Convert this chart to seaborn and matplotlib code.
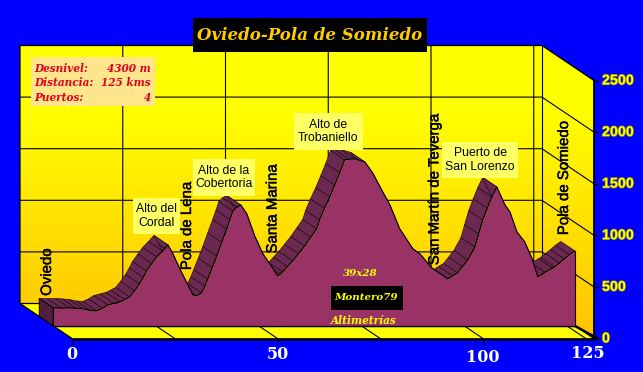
import numpy as np
import pandas as pd
import matplotlib
matplotlib.use("Agg")
import matplotlib.pyplot as plt
import matplotlib.patheffects as pe
from matplotlib.colors import LinearSegmentedColormap
from matplotlib.patches import Polygon, Rectangle
import seaborn as sns

title = "Oviedo-Pola de Somiedo"
km = [0, 2, 4, 5.6, 7.2, 9, 10.6, 12, 13.3, 14.8, 16.2, 17.4, 18.6, 19.8, 21, 21.9, 22.7, 24, 25.2, 26.6, 27.9,
      29.1, 30.8, 32.5, 34, 34.9, 36.1, 36.9, 37.6, 38.7, 39.8, 41, 42.2, 43, 43.7, 44.6, 45.6,
      47.1, 49, 51, 52.7, 54.6, 55.2, 55.8, 57, 58.3, 59.7, 61.2, 62.7, 64.1, 64.8, 66, 67.3, 68.5, 69.7, 70.9,
      72, 73.4, 75.8, 77.7, 79.9, 81.9, 84.3, 87.5, 89.2, 92.1, 96, 97.2, 98.4, 99.6, 100.9, 102.6, 103.5, 104.5,
      105.6, 106.7, 107.9, 109.9, 111.1, 112.8, 114.7, 116.4, 117.9, 119.7, 121.5, 122, 123.2, 124.4, 125.6, 126.9]
elev = [174, 172, 174, 170, 165, 150, 145, 170, 203, 218, 233, 255, 281, 340, 407, 470, 533, 605, 669, 727, 785,
        698, 552, 417, 300, 291, 320, 385, 455, 565, 678, 810, 940, 1030, 1114, 1150, 1172,
        1085, 872, 698, 600, 484, 500, 523, 575, 630, 700, 775, 860, 940, 1027, 1140, 1250, 1365, 1483, 1609,
        1615, 1618, 1589, 1483, 1318, 1172, 940, 746, 698, 562, 455, 485, 514, 575, 640, 765, 890, 1027,
        1140, 1250, 1347, 1172, 1105, 911, 814, 659, 475, 520, 560, 572, 610, 649, 690, 727]
y_ticks = [0, 500, 1000, 1500, 2000, 2500]
x_ticks = [0, 50, 100, 125]
x_grid = [25, 50, 75, 100, 125]
info_rows = [("Desnivel:", "4300 m"), ("Distancia:", "125 kms"), ("Puertos:", "4")]
passes = ["Alto del\nCordal", "Alto de la\nCobertoria", "Alto de\nTrobaniello", "Puerto de\nSan Lorenzo"]
towns = ["Oviedo", "Pola de Lena", "Santa Marina", "San Martín de Teverga", "Pola de Somiedo"]

W, H = 643, 372
PX_KM, PX_M = 4.11, 0.1032
X0, Y0 = 72, 338.5
DK, DM = -52 / PX_KM, 35 / PX_M       # depth vector, front edge to back wall
XEND = 127
FRONT, BACK = 0.36, 0.63

sns.set_theme(style="white")
plt.rcParams["font.family"] = ["Liberation Sans", "DejaVu Sans"]
fig = plt.figure(figsize=(W / 100, H / 100), dpi=100, facecolor="#0000FF")
ax = fig.add_axes([0, 0, 1, 1])
ax.set_xlim(-X0 / PX_KM, (W - X0) / PX_KM)
ax.set_ylim((Y0 - H) / PX_M, Y0 / PX_M)
ax.axis("off")


def proj(x, y, d):
    return np.asarray(x, float) + d * DK, np.asarray(y, float) + d * DM


def P(x, y, d):
    a, b = proj(x, y, d)
    return (float(a), float(b))


def fx(px):
    return px / W


def fy(py):
    return 1 - py / H


def box(x0, y0, x1, y1, color, z):
    fig.add_artist(Rectangle((fx(x0), fy(y1)), (x1 - x0) / W, (y1 - y0) / H, transform=fig.transFigure,
                             facecolor=color, edgecolor="none", zorder=z))


# walls with vertical gradient
back_wall = [P(0, 0, 1), P(XEND, 0, 1), P(XEND, 2500, 1), P(0, 2500, 1)]
side_wall = [P(XEND, 0, 1), P(XEND, 0, 0), P(XEND, 2500, 0), P(XEND, 2500, 1)]
floor = [P(0, 0, 1), P(XEND, 0, 1), P(XEND, 0, 0), P(0, 0, 0)]
cmap = LinearSegmentedColormap.from_list(
    "wall", [(0, "#FFFF00"), (0.22, "#FFFF00"), (0.87, "#FFCC00"), (1, "#FFC400")], N=64)
grad = np.linspace(0, 1, 128)[:, None]
for poly in (back_wall, side_wall):
    im = ax.imshow(grad, cmap=cmap, aspect="auto", zorder=1,
                   extent=[0 + DK, XEND, -35 + 0, 2500 + DM])
    patch = Polygon(poly, transform=ax.transData, facecolor="none", edgecolor="none")
    ax.add_patch(patch)
    im.set_clip_path(patch)
ax.set_xlim(-X0 / PX_KM, (W - X0) / PX_KM)
ax.set_ylim((Y0 - H) / PX_M, Y0 / PX_M)
ax.add_patch(Polygon(floor, facecolor="#FFFF00", edgecolor="none", zorder=1))

# grid
LW = 0.8
for m in y_ticks[1:-1]:
    a, b = zip(P(0, m, 1), P(XEND, m, 1), P(XEND, m, 0))
    ax.plot(a, b, color="black", lw=LW, zorder=2)
for k in x_grid:
    a, b = zip(P(k, 2500, 1), P(k, 0, 1), P(k, 0, 0))
    ax.plot(a, b, color="black", lw=LW, zorder=2)
a, b = zip(P(0, 0, 0), P(0, 0, 1), P(0, 2500, 1), P(XEND, 2500, 1), P(XEND, 2500, 0), P(XEND, 0, 0))
ax.plot(a, b, color="black", lw=0.9, zorder=2)
a, b = zip(P(0, 0, 1), P(XEND, 0, 1), P(XEND, 0, 0))
ax.plot(a, b, color="black", lw=0.9, zorder=2)
a, b = zip(P(XEND, 2500, 1), P(XEND, 0, 1))
ax.plot(a, b, color="black", lw=LW, zorder=2)
# axes frame and ticks
a, b = zip(P(0, 0, 0), P(XEND, 0, 0))
ax.plot(a, b, color="black", lw=1.8, zorder=6, solid_capstyle="butt")
a, b = zip(P(XEND, 0, 0), P(XEND, 2500, 0))
ax.plot(a, b, color="black", lw=1.1, zorder=6)
for k in x_ticks[:-1]:
    ax.plot([k, k], [0, -5 / PX_M], color="black", lw=0.8, zorder=6)
for m in y_ticks:
    ax.plot([XEND, XEND + 4 / PX_KM], [m, m], color="black", lw=0.9, zorder=6)

# base strip of the solid profile
a, b = zip(P(0, 0, FRONT), P(XEND, 0, FRONT))
ax.plot(a, b, color="black", lw=0.9, zorder=3)
a, b = zip(P(XEND, 0, FRONT), P(XEND, 0, BACK))
ax.plot(a, b, color="black", lw=0.8, zorder=3)
ax.plot(*zip(P(km[-1], 0, FRONT), P(XEND + 0.9, 0, 0)), color="black", lw=1.8, zorder=3)

# extruded top band
for i in range(len(km) - 1):
    quad = [P(km[i], elev[i], FRONT), P(km[i + 1], elev[i + 1], FRONT),
            P(km[i + 1], elev[i + 1], BACK), P(km[i], elev[i], BACK)]
    ax.add_patch(Polygon(quad, facecolor="#6B2850", edgecolor="#1a0a14", lw=0.45, zorder=4))
# left end face
face = [P(0, 0, FRONT), P(0, elev[0], FRONT), P(0, elev[0], BACK), P(0, 0, BACK)]
ax.add_patch(Polygon(face, facecolor="#4F1F3D", edgecolor="black", lw=0.7, zorder=4))

# front face
fxs, fys = proj(km, elev, FRONT)
bx, by = proj(km, np.zeros(len(km)), FRONT)
ax.fill_between(fxs, by, fys, color="#993366", lw=0, zorder=5)
df = pd.DataFrame({"x": fxs, "y": fys})
sns.lineplot(data=df, x="x", y="y", color="black", lw=0.8, ax=ax, zorder=5.5, legend=False, errorbar=None,
             sort=False)
ax.plot([fxs[0], fxs[0]], [by[0], fys[0]], color="black", lw=0.8, zorder=5.5)
ax.plot([fxs[-1], fxs[-1]], [by[-1], fys[-1]], color="black", lw=0.8, zorder=5.5)
ax.plot([bx[0], bx[-1]], [by[0], by[-1]], color="black", lw=0.9, zorder=5.5)
ax.set_xlim(-X0 / PX_KM, (W - X0) / PX_KM)
ax.set_ylim((Y0 - H) / PX_M, Y0 / PX_M)
ax.set_xlabel("")
ax.set_ylabel("")

SERIF = "DejaVu Serif"
# title
box(193, 18, 427, 52, "black", 10)
fig.text(fx(310), fy(35), title, color="#FFCC00", family=SERIF, weight="bold", style="italic", size=12,
         ha="center", va="center", zorder=11)

# info box
box(31, 57, 155, 106, "#FFE68C", 10)
for (lab, val), y in zip(info_rows, [68, 82.5, 97.5]):
    fig.text(fx(34), fy(y), lab, color="#E00020", family=SERIF, weight="bold", style="italic", size=7.6,
             ha="left", va="center", zorder=11)
    fig.text(fx(151), fy(y), val, color="#E00020", family=SERIF, weight="bold", style="italic", size=7.6,
             ha="right", va="center", zorder=11)

# pass callouts
for txt, (x0, y0, x1, y1) in zip(passes, [(133, 198, 180, 234), (193, 159, 255, 196),
                                          (294, 113, 363, 150), (442, 142, 518, 178)]):
    box(x0, y0, x1, y1, "#FFFF66", 10)
    fig.text(fx((x0 + x1) / 2), fy((y0 + y1) / 2), txt, color="black", size=8.8, ha="center", va="center",
             linespacing=1.2, zorder=11)

# town labels
for txt, x, y in zip(towns, [47, 187, 272.5, 434.5, 564], [272, 226, 209, 189.5, 178]):
    fig.text(fx(x), fy(y), txt, color="black", rotation=90, size=10.8, ha="center", va="center", zorder=9,
             path_effects=[pe.withStroke(linewidth=0.3, foreground="black")])

# credits
fig.text(fx(360), fy(274), "39x28", color="#FFFF00", family=SERIF, weight="bold", style="italic", size=7.4,
         ha="center", va="center", zorder=11)
box(331, 286, 403, 310, "black", 10)
fig.text(fx(366), fy(297), "Montero79", color="#FFFF00", family=SERIF, weight="bold", style="italic", size=7.4,
         ha="center", va="center", zorder=11)
fig.text(fx(364), fy(320), "Altimetrías", color="#FFFF00", family=SERIF, weight="bold", style="italic", size=7.6,
         ha="center", va="center", zorder=11)

# tick labels
for m in y_ticks:
    ax.text(XEND + 8 / PX_KM, m, str(m), color="#FFFF00", weight="bold", size=10.3, ha="left", va="center",
            zorder=11, path_effects=[pe.withStroke(linewidth=0.9, foreground="#808000")])
for k, xo, yo in zip(x_ticks, [0, 0, 0, 0.15], [16, 16, 18.5, 15]):
    ax.text(k + xo * 3.5, -yo / PX_M, str(k), color="white", family=SERIF, weight="bold", size=11.5, ha="center",
            va="center", zorder=11)

fig.savefig("out.png", dpi=100, facecolor=fig.get_facecolor())
